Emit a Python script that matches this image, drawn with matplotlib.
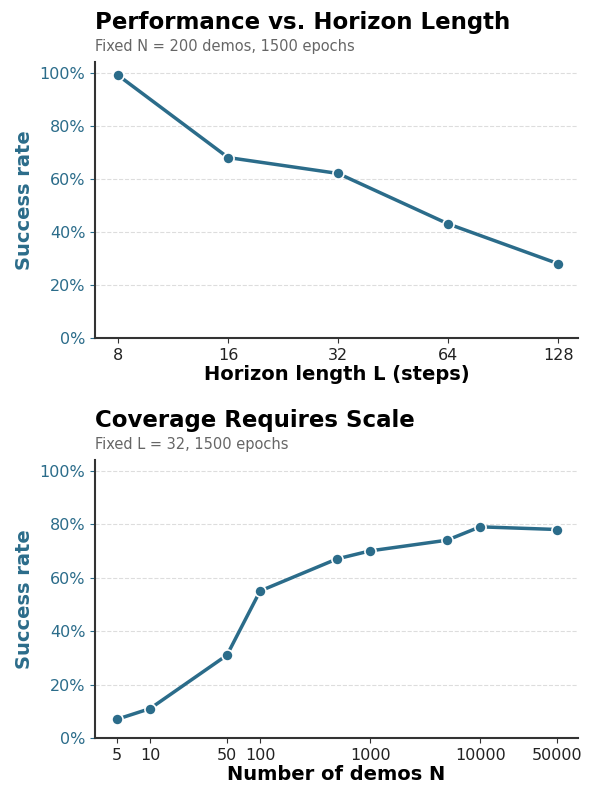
import matplotlib
matplotlib.use("Agg")
import matplotlib.pyplot as plt
from matplotlib.ticker import FuncFormatter, FixedLocator, NullLocator

horizon = [8, 16, 32, 64, 128]
horizon_sr = [0.99, 0.68, 0.62, 0.43, 0.28]
demos = [5, 10, 50, 100, 500, 1000, 5000, 10000, 50000]
demos_sr = [0.07, 0.11, 0.31, 0.55, 0.67, 0.70, 0.74, 0.79, 0.78]
demo_ticks = [5, 10, 50, 100, 1000, 10000, 50000]

C = "#2b6c8a"
fig = plt.figure(figsize=(5.94, 8), dpi=100)
ax1 = fig.add_axes([0.16, 0.5775, 0.813, 0.345])
ax2 = fig.add_axes([0.16, 0.0775, 0.813, 0.3475])

def style(ax, xs, ys, ticks, xlabel, title, sub):
    ax.plot(xs, ys, color=C, lw=2.5, marker="o", ms=8, mec="white", mew=1.2)
    ax.set_xscale("log")
    ax.xaxis.set_major_locator(FixedLocator(ticks))
    ax.xaxis.set_minor_locator(NullLocator())
    ax.set_xticklabels([str(t) for t in ticks])
    ax.set_ylim(0, 1.04)
    ax.set_yticks([0, 0.2, 0.4, 0.6, 0.8, 1.0])
    ax.yaxis.set_major_formatter(FuncFormatter(lambda v, p: f"{v*100:.0f}%"))
    ax.grid(axis="y", color="#dddddd", ls="--", lw=0.8)
    ax.set_axisbelow(True)
    for s in ["top", "right"]:
        ax.spines[s].set_visible(False)
    for s in ["left", "bottom"]:
        ax.spines[s].set_color("#333333")
        ax.spines[s].set_linewidth(1.5)
    ax.tick_params(axis="y", colors=C, labelsize=11.5)
    ax.tick_params(axis="x", labelsize=11.5, colors="#333333", labelcolor="#222222")
    ax.set_ylabel("Success rate", color=C, fontsize=14, fontweight="bold")
    ax.set_xlabel(xlabel, fontsize=14, fontweight="bold", labelpad=2)
    ax.text(0, 1.1, title, transform=ax.transAxes, fontsize=16.5, fontweight="bold", va="bottom")
    ax.text(0, 1.03, sub, transform=ax.transAxes, fontsize=10.5, color="#666666", va="bottom")

style(ax1, horizon, horizon_sr, horizon, "Horizon length L (steps)",
      "Performance vs. Horizon Length", "Fixed N = 200 demos, 1500 epochs")
ax1.set_xlim(6.92, 145)
style(ax2, demos, demos_sr, demo_ticks, "Number of demos N",
      "Coverage Requires Scale", "Fixed L = 32, 1500 epochs")
ax2.set_xlim(3.16, 77500)
fig.savefig("out.png", dpi=100)
